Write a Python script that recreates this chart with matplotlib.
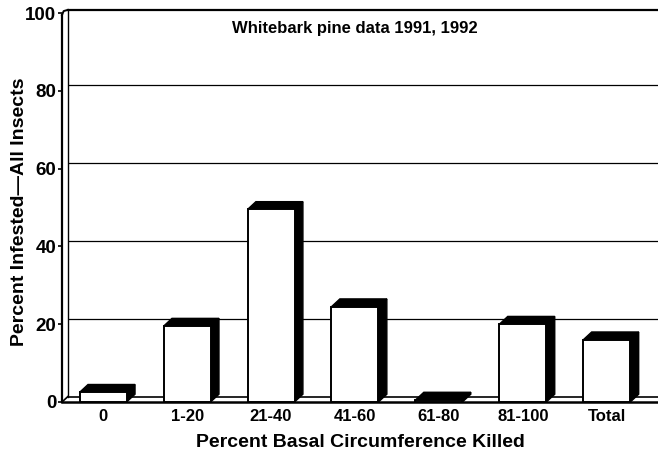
import matplotlib
matplotlib.use("Agg")
from matplotlib import pyplot as plt

# ------------ DATA
categories = ["0", "1-20", "21-40", "41-60", "61-80", "81-100", "Total"]
values = [2.5, 19.5, 49.5, 24.5, 0.5, 20, 16]
yticks = [0, 20, 40, 60, 80, 100]

title_text = "Whitebark pine data 1991, 1992"
x_label = "Percent Basal Circumference Killed"
y_label = "Percent Infested\u2014All Insects"

# ------------ STYLE
plt.rcParams['font.family'] = ['Liberation Sans', 'DejaVu Sans']
plt.rcParams['font.weight'] = 'bold'

bar_w = 0.56     # width of front face (data units)
dx = 0.10        # depth offset in x
dy = 2.0         # depth offset in y
xmin, xmax = -0.49, 6.61

fig = plt.figure(figsize=(6.58, 4.54), dpi=100)
ax = fig.add_axes([62 / 658, 52 / 454, 1 - 62 / 658, 389 / 454])
ax.set_xlim(xmin, xmax)
ax.set_ylim(0, 100)
for s in ax.spines.values():
    s.set_visible(False)

# back wall / gridlines
wall_x = xmin + 0.07
for t in yticks[1:-1]:
    ax.plot([wall_x, xmax], [t + dy * 0.7, t + dy * 0.7], color='black', lw=0.9,
            solid_capstyle='butt', zorder=1)
# top line of back wall
ax.plot([wall_x, xmax], [100.8, 100.8], color='black', lw=1.6, clip_on=False, zorder=1)
# left walls (front axis + back wall)
ax.plot([xmin, xmin], [0, 99.5], color='black', lw=1.6, clip_on=False, zorder=3)
ax.plot([wall_x, wall_x], [dy * 0.7, 100.8], color='black', lw=1.0, clip_on=False, zorder=1)
ax.plot([xmin, xmin + 0.02, wall_x], [99.5, 100.5, 100.8], color='black', lw=1.4,
        clip_on=False, zorder=3)
# floor
ax.plot([xmin, xmax], [0, 0], color='black', lw=1.8, clip_on=False, zorder=3)
ax.plot([wall_x, xmax], [dy * 0.7, dy * 0.7], color='black', lw=1.2, zorder=1)
ax.plot([xmin, wall_x], [0, dy * 0.7], color='black', lw=1.2, zorder=1)

# 3d bars
for i, v in enumerate(values):
    x0 = i - bar_w / 2
    x1 = i + bar_w / 2
    # top face
    ax.fill([x0, x1, x1 + dx, x0 + dx], [v, v, v + dy, v + dy], color='black',
            edgecolor='black', lw=1.0, zorder=4)
    # side face
    ax.fill([x1, x1 + dx, x1 + dx, x1], [0, dy, v + dy, v], color='black',
            edgecolor='black', lw=1.0, zorder=4)
    # front face
    ax.fill([x0, x1, x1, x0], [0, 0, v, v], facecolor='white', edgecolor='black',
            lw=1.4, zorder=5)

ax.set_xticks(range(len(categories)))
ax.set_xticklabels(categories, fontsize=12, fontweight='bold')
ax.set_yticks(yticks)
ax.set_yticklabels([str(t) for t in yticks], fontsize=13.5, fontweight='bold')
ax.tick_params(axis='x', length=0, pad=5)
ax.tick_params(axis='y', length=3, width=1.2, pad=1)

ax.set_xlabel(x_label, fontsize=14, fontweight='bold', labelpad=7)
ax.set_ylabel(y_label, fontsize=14, fontweight='bold')
ax.yaxis.set_label_coords(-0.057, 0.49)
ax.text(3.0, 96, title_text, ha='center', va='center', fontsize=12, fontweight='bold')

fig.savefig("out.png", dpi=100)
